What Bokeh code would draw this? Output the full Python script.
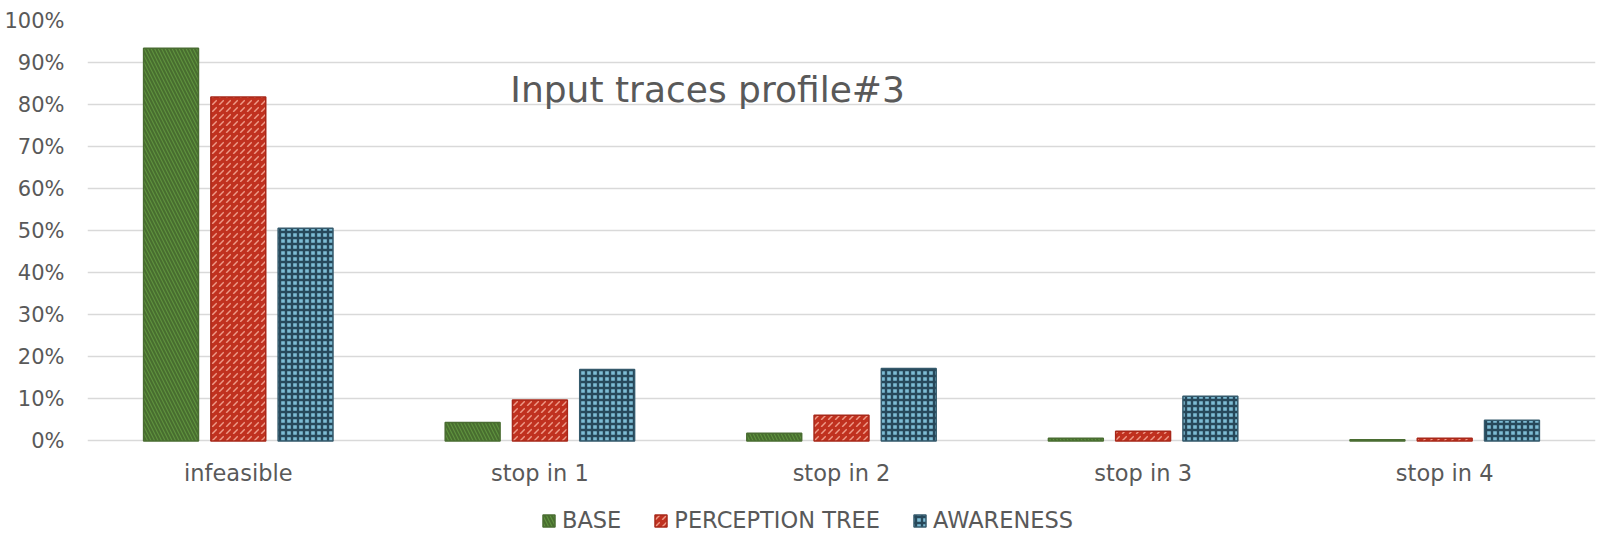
from bokeh.plotting import figure
from bokeh.models import (FactorRange, Range1d, ColumnDataSource, Legend, LegendItem,
                          Label, FixedTicker, NumeralTickFormatter)
from bokeh.core.properties import value
from bokeh.transform import dodge
from bokeh.embed import file_html
from bokeh.resources import INLINE

categories = ["infeasible", "stop in 1", "stop in 2", "stop in 3", "stop in 4"]
series = ["BASE", "PERCEPTION TREE", "AWARENESS"]
base = [0.934, 0.044, 0.018, 0.006, 0.003]
perception = [0.818, 0.097, 0.061, 0.023, 0.006]
awareness = [0.506, 0.170, 0.172, 0.106, 0.049]
y_ticks = [0, 0.1, 0.2, 0.3, 0.4, 0.5, 0.6, 0.7, 0.8, 0.9, 1.0]
title_text = "Input traces profile#3"

FONT = "DejaVu Sans"
GREY = "#595959"

src = ColumnDataSource(dict(cat=categories, base=base, perception=perception, awareness=awareness))

# frame spans from the top gridline down to the bottom of the picture; the
# negative part of the y range holds the category labels and the legend
p = figure(width=1610, height=556, x_range=FactorRange(*categories), y_range=Range1d(-0.2631, 1),
           output_backend="svg", toolbar_location=None,
           min_border_left=87, min_border_right=15, min_border_top=20, min_border_bottom=5)
p.outline_line_color = None
p.xgrid.grid_line_color = None
p.ygrid.grid_line_color = "#d9d9d9"
p.ygrid.grid_line_width = 1.5
p.xaxis.visible = False
yax = p.yaxis[0]
yax.ticker = FixedTicker(ticks=y_ticks)
yax.formatter = NumeralTickFormatter(format="0%")
yax.axis_line_color = None
yax.major_tick_line_color = None
yax.minor_tick_line_color = None
yax.major_tick_out = 0
yax.major_tick_in = 0
yax.minor_tick_out = 0
yax.major_label_text_color = GREY
yax.major_label_text_font = FONT
yax.major_label_text_font_size = "21px"
yax.major_label_standoff = 23

# category labels under the 0% line
lab_src = ColumnDataSource(dict(cat=categories, y=[-0.0773] * len(categories)))
p.text(x="cat", y="y", text="cat", source=lab_src, text_align="center", text_baseline="alphabetic",
       text_font=value(FONT), text_font_size="22.5px", text_color=GREY)

W = 0.182
r1 = p.vbar(x=dodge("cat", -0.223, range=p.x_range), top="base", bottom=0, width=W, source=src,
            fill_color="#5e923d", line_color="#4a6d32", line_width=1.5,
            hatch_pattern="left_diagonal_line", hatch_color="#486d2f", hatch_scale=7, hatch_weight=2)
r2 = p.vbar(x=dodge("cat", 0.0, range=p.x_range), top="perception", bottom=0, width=W, source=src,
            fill_color="#c0311f", line_color="#a8281a", line_width=1.5,
            hatch_pattern="right_diagonal_dash", hatch_color="#ee9a88", hatch_scale=7, hatch_weight=1.5)
r3 = p.vbar(x=dodge("cat", 0.223, range=p.x_range), top="awareness", bottom=0, width=W, source=src,
            fill_color="#7dbcd4", line_color="#355a6c", line_width=1.5,
            hatch_pattern="cross", hatch_color="#27485a", hatch_scale=6, hatch_weight=2.4)

legend = Legend(items=[LegendItem(label=series[0], renderers=[r1]),
                       LegendItem(label=series[1], renderers=[r2]),
                       LegendItem(label=series[2], renderers=[r3])],
                orientation="horizontal", location=(454, 18),
                label_text_font=FONT, label_text_font_size="22.5px", label_text_color=GREY,
                glyph_width=15, glyph_height=15, spacing=32, label_standoff=6,
                border_line_color=None, background_fill_alpha=0, padding=4, margin=0)
p.add_layout(legend)

p.add_layout(Label(x=2.056, y=0.836, text=title_text, text_align="center", text_baseline="alphabetic",
                   text_font=FONT, text_font_size="36px", text_color=GREY))

open("out.html", "w").write(file_html(p, INLINE))
